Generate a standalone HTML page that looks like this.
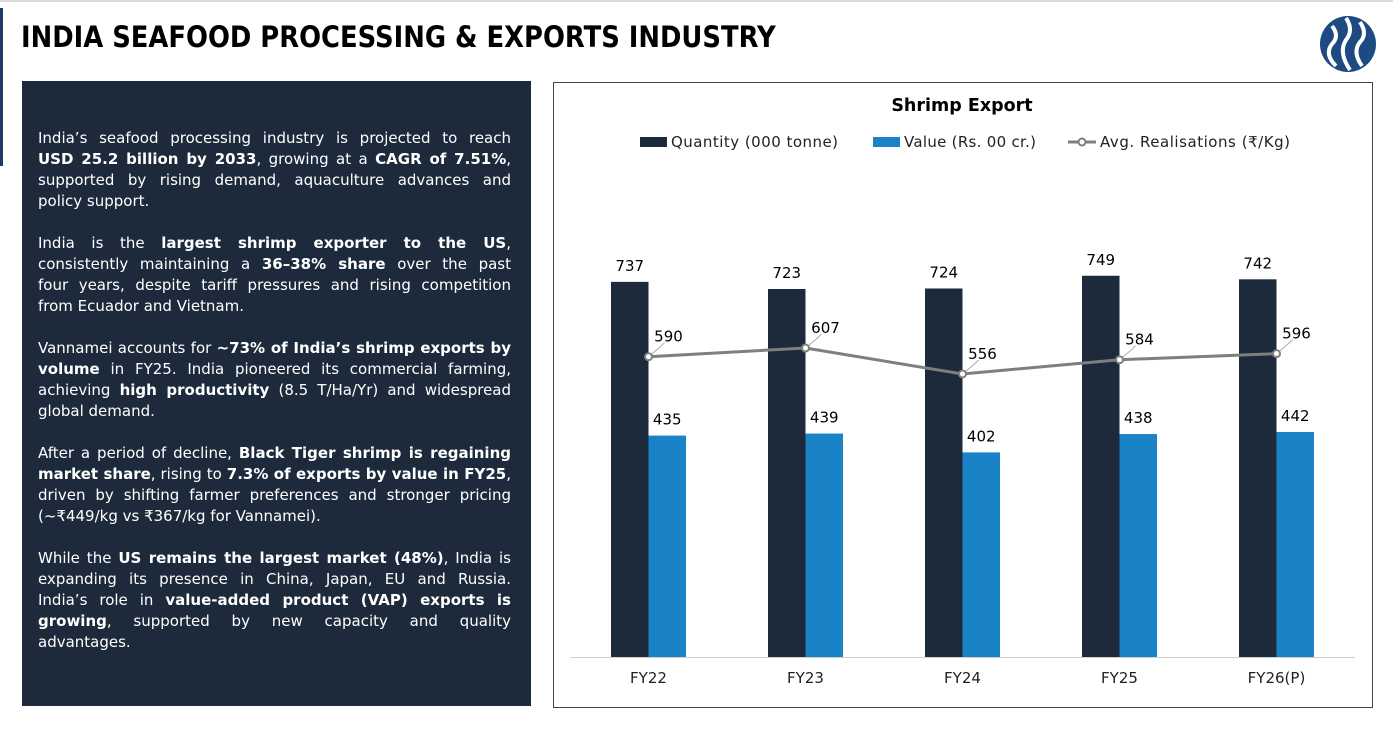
<!DOCTYPE html>
<html><head><meta charset="utf-8"><style>
body{margin:0;width:1393px;height:745px;background:#fff;position:relative;overflow:hidden;font-family:"Liberation Sans",sans-serif}
.topline{position:absolute;left:0;top:0;width:1393px;height:2px;background:#d9d9d9}
.leftbar{position:absolute;left:0;top:8px;width:3px;height:158px;background:#1f3a68}
h1{position:absolute;left:21px;top:20px;margin:0;font-size:29px;font-weight:bold;color:#000;letter-spacing:0px;font-family:"DejaVu Sans",sans-serif;transform:scaleX(0.89);transform-origin:left top}
.panel{position:absolute;left:22px;top:81px;width:509px;height:625px;background:#1c2a3b}
.txt{position:absolute;left:16px;top:47px;width:473px;color:#fff;font-size:15px;line-height:21px;font-family:"DejaVu Sans",sans-serif}
.txt p{margin:0 0 21px 0}
.txt span.l{display:block;text-align:justify;text-align-last:justify;white-space:nowrap}
.txt span.e{display:block;white-space:nowrap}
.chartbox{position:absolute;left:553px;top:82px;width:818px;height:624px;border:1px solid #444}
</style></head><body>
<div class="topline"></div>
<div class="leftbar"></div>
<h1>INDIA SEAFOOD PROCESSING &amp; EXPORTS INDUSTRY</h1>
<svg style="position:absolute;left:1318px;top:14px" width="60" height="60">
<circle cx="30" cy="30" r="28" fill="#1d4a80"/>
<path d="M14 12 q8 10 0 18 q-8 10 4 22" stroke="#fff" stroke-width="4" fill="none"/>
<path d="M28 4 q8 12 0 22 q-8 12 4 30" stroke="#fff" stroke-width="4" fill="none"/>
<path d="M42 8 q8 12 0 20 q-8 10 2 24" stroke="#fff" stroke-width="4" fill="none"/>
</svg>
<div class="panel">
<div class="txt">
<p><span class="l">India’s seafood processing industry is projected to reach</span><span class="l"><b>USD 25.2 billion by 2033</b>, growing at a <b>CAGR of 7.51%</b>,</span><span class="l">supported by rising demand, aquaculture advances and</span><span class="e">policy support.</span></p>
<p><span class="l">India is the <b>largest shrimp exporter to the US</b>,</span><span class="l">consistently maintaining a <b>36–38% share</b> over the past</span><span class="l">four years, despite tariff pressures and rising competition</span><span class="e">from Ecuador and Vietnam.</span></p>
<p><span class="l">Vannamei accounts for <b>~73% of India’s shrimp exports by</b></span><span class="l"><b>volume</b> in FY25. India pioneered its commercial farming,</span><span class="l">achieving <b>high productivity</b> (8.5 T/Ha/Yr) and widespread</span><span class="e">global demand.</span></p>
<p><span class="l">After a period of decline, <b>Black Tiger shrimp is regaining</b></span><span class="l"><b>market share</b>, rising to <b>7.3% of exports by value in FY25</b>,</span><span class="l">driven by shifting farmer preferences and stronger pricing</span><span class="e">(~₹449/kg vs ₹367/kg for Vannamei).</span></p>
<p><span class="l">While the <b>US remains the largest market (48%)</b>, India is</span><span class="l">expanding its presence in China, Japan, EU and Russia.</span><span class="l">India’s role in <b>value-added product (VAP) exports is</b></span><span class="l"><b>growing</b>, supported by new capacity and quality</span><span class="e">advantages.</span></p>
</div></div>
<div class="chartbox"></div>
<svg id="chart" style="position:absolute;left:0;top:0" width="1393" height="745"></svg>
<script>
const categories=["FY22","FY23","FY24","FY25","FY26(P)"];
const quantity=[737,723,724,749,742];
const value=[435,439,402,438,442];
const realisation=[590,607,556,584,596];
const NS="http://www.w3.org/2000/svg";
const svg=document.getElementById('chart');
const base=657,k=0.509,x0=570,x1=1355;
const step=(x1-x0)/categories.length;
const cx=i=>x0+step*(i+0.5);
const y=v=>base-v*k;
function mk(t,a){const e=document.createElementNS(NS,t);for(const n in a)e.setAttribute(n,a[n]);svg.appendChild(e);return e;}
function txt(x,yy,s,o){const e=mk('text',Object.assign({x:x,y:yy,'font-size':15,fill:'#000','text-anchor':'middle','font-family':'DejaVu Sans, sans-serif'},o||{}));e.textContent=s;return e;}
let t=txt(962,111,'Shrimp Export',{'font-weight':'bold','font-size':17.5});


let l=mk('rect',{x:640,y:137,width:27,height:10,fill:'#1c2a3b'});


t=txt(671,147,'Quantity (000 tonne)',{'text-anchor':'start',fill:'#222',textLength:167});


l=mk('rect',{x:873,y:137,width:27,height:10,fill:'#1a83c8'});


t=txt(904,147,'Value (Rs. 00 cr.)',{'text-anchor':'start',fill:'#222',textLength:132});


l=mk('line',{x1:1068,y1:142,x2:1096,y2:142,stroke:'#7f7f7f','stroke-width':3});


l=mk('circle',{cx:1082,cy:142,r:3.5,fill:'#fff',stroke:'#7f7f7f','stroke-width':2});


t=txt(1100,147,'Avg. Realisations (₹/Kg)',{'text-anchor':'start',fill:'#222',textLength:190});


let ax=mk('line',{x1:x0,y1:base+0.5,x2:x1,y2:base+0.5,stroke:'#d0d0d0','stroke-width':1});


const bw=37.5;
categories.forEach((c,i)=>{
  const c0=cx(i);
  let b=mk('rect',{x:c0-bw,y:y(quantity[i]),width:bw,height:quantity[i]*k,fill:'#1c2a3b'});
  
  
  let v=mk('rect',{x:c0,y:y(value[i]),width:bw,height:value[i]*k,fill:'#1a83c8'});
  
  
  let q=txt(c0-bw/2,y(quantity[i])-11,String(quantity[i]));
  
  
  let vl=txt(c0+bw/2,y(value[i])-11,String(value[i]));
  
  
  let xl=txt(c0,683,c,{fill:'#222'});
  
  
});
let pts=realisation.map((v,i)=>cx(i)+','+y(v)).join(' ');
let pl=mk('polyline',{points:pts,fill:'none',stroke:'#7f7f7f','stroke-width':3});


realisation.forEach((v,i)=>{
  const px=cx(i),py=y(v);
  let ld=mk('polyline',{points:`${px},${py} ${px+12},${py-10} ${px+16},${py-14}`,fill:'none',stroke:'#aaa','stroke-width':1});
  
  
  let p=mk('circle',{cx:px,cy:py,r:3.5,fill:'#fff',stroke:'#7f7f7f','stroke-width':2});
  
  
  let lt=txt(px+20,py-15,String(v));
  
  
});
</script>
</body></html>
